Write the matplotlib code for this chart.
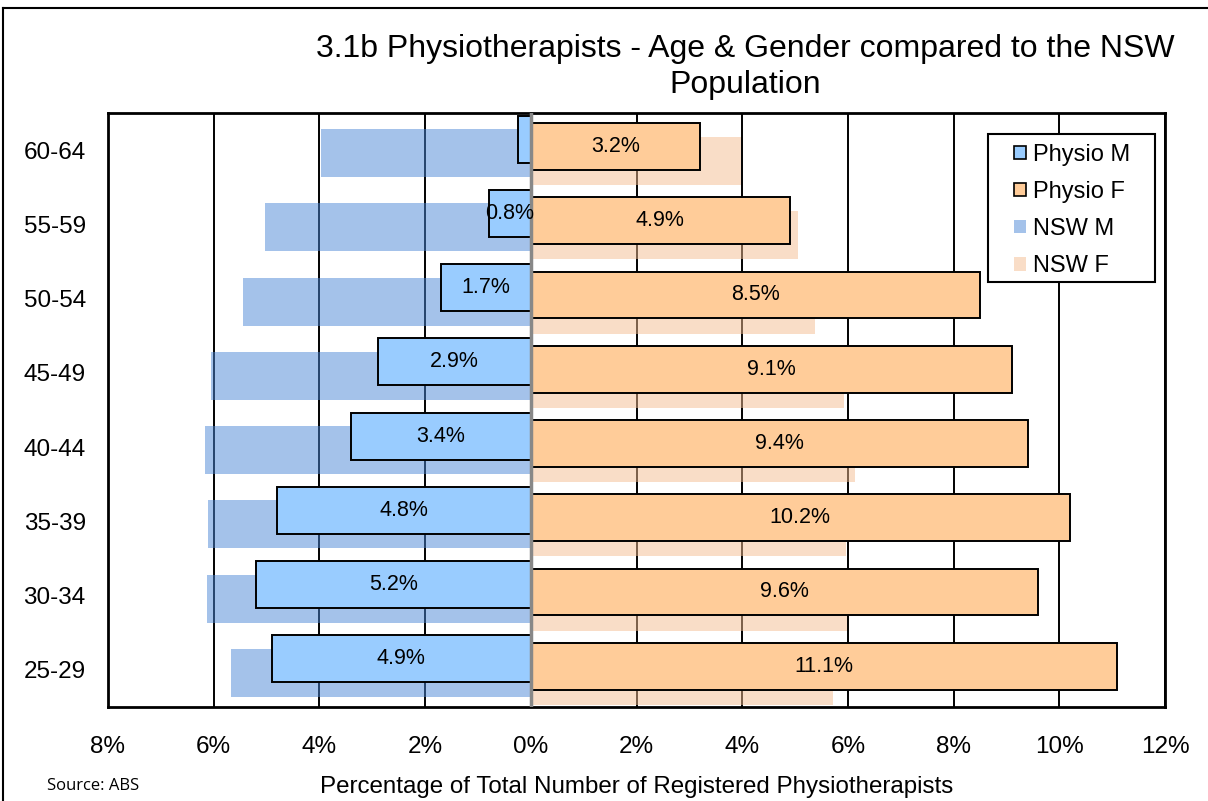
import matplotlib
matplotlib.use("Agg")
import matplotlib.pyplot as plt
from matplotlib.patches import Patch, Rectangle
from matplotlib.lines import Line2D
import numpy as np

plt.rcParams["font.family"] = ["Liberation Sans", "DejaVu Sans"]

# data, bottom (25-29) to top (60-64)
ages = ["25-29", "30-34", "35-39", "40-44", "45-49", "50-54", "55-59", "60-64"]
physio_m = [4.9, 5.2, 4.8, 3.4, 2.9, 1.7, 0.8, 0.25]
physio_f = [11.1, 9.6, 10.2, 9.4, 9.1, 8.5, 4.9, 3.2]
nsw_m = [5.67, 6.13, 6.10, 6.16, 6.05, 5.45, 5.02, 3.97]
nsw_f = [5.71, 5.99, 5.96, 6.13, 5.93, 5.37, 5.06, 3.98]
xticks = [-8, -6, -4, -2, 0, 2, 4, 6, 8, 10, 12]

C_PM, C_PF = "#99CCFF", "#FFCC99"
C_NM, C_NF = "#4A86D6", "#F4BD91"

y = np.arange(len(ages))
fig = plt.figure(figsize=(12.08, 8.01), dpi=100)
ax = fig.add_axes([108 / 1208, 1 - 707 / 801, 1057 / 1208, 594 / 801])

# NSW population (translucent, behind), physio (opaque, front)
ax.barh(y - 0.362, [-v for v in nsw_m], height=0.645, align="edge",
        color=C_NM, alpha=0.5, lw=0, zorder=1)
ax.barh(y - 0.47, nsw_f, height=0.645, align="edge",
        color=C_NF, alpha=0.5, lw=0, zorder=1)
ax.barh(y - 0.167, [-v for v in physio_m], height=0.63, align="edge",
        color=C_PM, edgecolor="black", lw=1.4, zorder=2)
ax.barh(y - 0.265, physio_f, height=0.63, align="edge",
        color=C_PF, edgecolor="black", lw=1.4, zorder=2)

for i, v in enumerate(physio_m):
    if v >= 0.5:
        ax.text(-v / 2, y[i] - 0.167 + 0.315, f"{v:.1f}%", ha="center",
                va="center", fontsize=15.5, zorder=5)
for i, v in enumerate(physio_f):
    ax.text(v / 2, y[i] - 0.265 + 0.315, f"{v:.1f}%", ha="center",
            va="center", fontsize=15.5, zorder=5)

ax.axvline(0, color="#888888", lw=2.5, zorder=4)
ax.set_xlim(-8, 12)
ax.set_ylim(-0.5, len(ages) - 0.5)
ax.set_xticks(xticks)
ax.set_xticklabels([f"{abs(t)}%" for t in xticks], fontsize=17.5)
ax.set_yticks(y)
ax.set_yticklabels(ages, fontsize=17.5)
ax.tick_params(length=0)
ax.tick_params(axis="x", pad=21)
ax.tick_params(axis="y", pad=16)
ax.grid(axis="x", color="black", lw=1.4)
ax.grid(axis="y", visible=False)
ax.set_axisbelow(True)
for s in ax.spines.values():
    s.set_linewidth(2)
    s.set_color("black")

# legend: box drawn separately so the padding can match the original
ax.add_patch(Rectangle((0.8325, 0.7155), 0.158, 0.249, transform=ax.transAxes,
                       facecolor="white", edgecolor="black", lw=1.5, zorder=6))
handles = [Patch(facecolor=C_PM, edgecolor="black", lw=1.2),
           Patch(facecolor=C_PF, edgecolor="black", lw=1.2),
           Patch(facecolor=C_NM, alpha=0.5, lw=0),
           Patch(facecolor=C_NF, alpha=0.5, lw=0)]
leg = ax.legend(handles, ["Physio M", "Physio F", "NSW M", "NSW F"],
                loc="upper left", bbox_to_anchor=(0.857, 0.948),
                fontsize=17, frameon=False, borderpad=0, borderaxespad=0,
                handlelength=0.5, handleheight=0.5, handletextpad=0.3,
                labelspacing=0.64)
leg.set_zorder(7)

fig.text(745 / 1208, 1 - 67 / 801,
         "3.1b Physiotherapists - Age & Gender compared to the NSW\nPopulation",
         ha="center", va="center", fontsize=23, linespacing=1.3)
fig.text(637 / 1208, 1 - 787 / 801,
         "Percentage of Total Number of Registered Physiotherapists",
         ha="center", va="center", fontsize=17.4)
fig.text(47 / 1208, 1 - 786 / 801, "Source: ABS", ha="left", va="center",
         fontsize=12, family=["Open Sans", "DejaVu Sans"])

# outer chart frame (top and left edges visible)
fig.add_artist(Line2D([3 / 1208, 1], [1 - 8 / 801] * 2, color="black", lw=1.5))
fig.add_artist(Line2D([3 / 1208] * 2, [0, 1 - 8 / 801], color="black", lw=1.5))

fig.savefig("out.png", dpi=100)
